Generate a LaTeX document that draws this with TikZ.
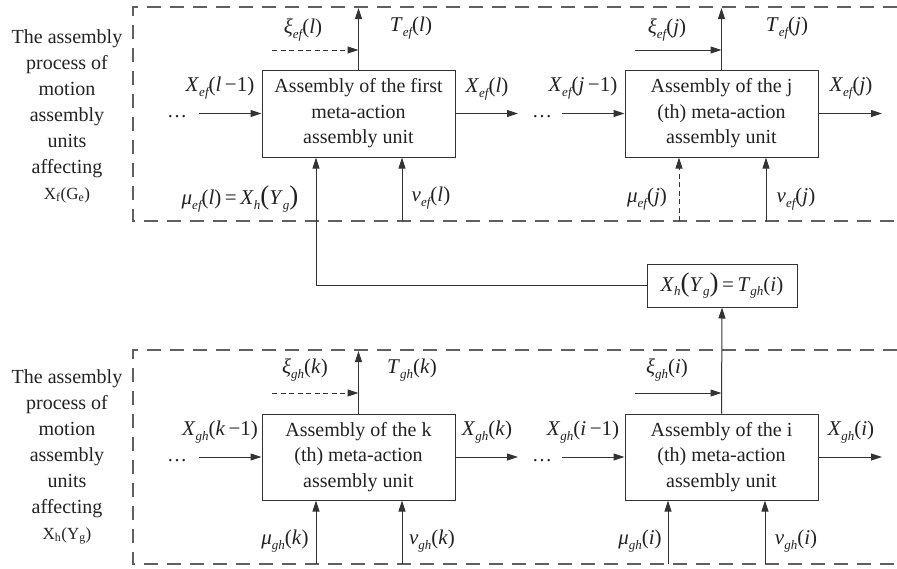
\documentclass[tikz,border=0pt]{standalone}
\usepackage{fontspec}
\setmainfont{Liberation Serif}
\usetikzlibrary{arrows.meta}
\newcommand\Sb[1]{\raisebox{-0.45ex}{\fontsize{13}{13}\selectfont\itshape #1}}
\newcommand\It[1]{\textit{#1}}
\newcommand\Bp[1]{{\fontsize{27}{27}\selectfont #1}}
\definecolor{linec}{HTML}{333333}
\definecolor{framec}{HTML}{606060}
\definecolor{txtc}{HTML}{222222}
\begin{document}
\begin{tikzpicture}[x=1pt,y=-1pt,
  unitbox/.style={draw=linec, line width=1pt, minimum width=193pt, minimum height=87pt,
    align=center, inner sep=0pt, text=txtc, font=\fontsize{20}{25.5}\selectfont},
  eqbox/.style={draw=linec, line width=1pt, minimum width=150pt, minimum height=43pt,
    inner sep=0pt, text=txtc, font=\fontsize{21}{21}\selectfont},
  frame/.style={draw=framec, line width=1.1pt, dash pattern=on 14pt off 9pt},
  arr/.style={draw=linec, line width=1pt, -{Triangle[length=11pt,width=7pt]}},
  darr/.style={arr, dash pattern=on 5pt off 3.5pt},
  lbl/.style={inner sep=0pt, text=txtc, font=\fontsize{21}{21}\selectfont},
  side/.style={align=center, inner sep=0pt, text=txtc, font=\fontsize{20}{26}\selectfont},
  dots/.style={inner sep=0pt, text=txtc, font=\fontsize{20}{20}\selectfont, anchor=base}
]
\useasboundingbox (0,0) rectangle (897,568);

% frames
\draw[frame] (897,7) -- (133,7) -- (133,221) -- (897,221);
\draw[frame] (897,350) -- (133,350) -- (133,564) -- (897,564);

% side texts
\node[side] (sideA) at (67,116) {The assembly\\process of\\motion\\assembly\\units\\affecting\\{\fontsize{17}{17}\selectfont X\textsubscript{f}(G\textsubscript{e})}};
\node[side] (sideB) at (67,457) {The assembly\\process of\\motion\\assembly\\units\\affecting\\{\fontsize{17}{17}\selectfont X\textsubscript{h}(Y\textsubscript{g})}};

% unit boxes
\node[unitbox] (b1) at (358.5,113.5) {Assembly of the first\\meta-action\\assembly unit};
\node[unitbox] (bj) at (721.5,113.5) {Assembly of the j\\(th) meta-action\\assembly unit};
\node[unitbox, minimum height=86pt] (bk) at (358.5,457) {Assembly of the k\\(th) meta-action\\assembly unit};
\node[unitbox, minimum height=86pt] (bi) at (721.5,457) {Assembly of the i\\(th) meta-action\\assembly unit};
\node[eqbox] (xh) at (722,285.5) {\It{X}\Sb{h}\Bp{(}\It{Y}\Sb{g}\Bp{)}\,=\,\It{T}\Sb{gh}(\It{i})};

% coordinates
\coordinate (top1) at (358.5,8);
\coordinate (topj) at (721.5,8);
\coordinate (topk) at (358.5,351);
\coordinate (xs1) at (272,50);
\coordinate (xsj) at (635,50);
\coordinate (xsk) at (272,393);
\coordinate (xsi) at (635,393);
\coordinate (in1) at (199,113.5);
\coordinate (inj) at (562,113.5);
\coordinate (ink) at (199,457);
\coordinate (ini) at (562,457);
\coordinate (out1) at (518,113.5);
\coordinate (outj) at (882,113.5);
\coordinate (outk) at (518,457);
\coordinate (outi) at (882,457);
\coordinate (mu1) at (316,221);
\coordinate (nu1) at (402,221);
\coordinate (muj) at (679,221);
\coordinate (nuj) at (766,221);
\coordinate (muk) at (316,564);
\coordinate (nuk) at (402,564);
\coordinate (mui) at (668,564);
\coordinate (nui) at (765,564);

% top row connectors
\draw[arr] (b1.north) -- (top1);
\draw[darr] (xs1) -- (xs1 -| b1.north);
\draw[arr] (in1) -- (b1.west);
\draw[arr] (b1.east) -- (out1);
\draw[arr] (xh.west) -| (mu1 |- b1.south);
\draw[arr] (nu1) -- (nu1 |- b1.south);

\draw[arr] (bj.north) -- (topj);
\draw[arr] (xsj) -- (xsj -| bj.north);
\draw[arr] (inj) -- (bj.west);
\draw[arr] (bj.east) -- (outj);
\draw[darr] (muj) -- (muj |- bj.south);
\draw[arr] (nuj) -- (nuj |- bj.south);

% bottom row connectors
\draw[arr] (bk.north) -- (topk);
\draw[darr] (xsk) -- (xsk -| bk.north);
\draw[arr] (ink) -- (bk.west);
\draw[arr] (bk.east) -- (outk);
\draw[arr] (muk) -- (muk |- bk.south);
\draw[arr] (nuk) -- (nuk |- bk.south);

\draw[arr] (bi.north) -- (xh.south);
\draw[arr] (xsi) -- (xsi -| bi.north);
\draw[arr] (ini) -- (bi.west);
\draw[arr] (bi.east) -- (outi);
\draw[arr] (mui) -- (mui |- bi.south);
\draw[arr] (nui) -- (nui |- bi.south);

% dots
\node[dots] (d1) at (177,117) {\dots};
\node[dots] (d2) at (542,117) {\dots};
\node[dots] (d3) at (177,461) {\dots};
\node[dots] (d4) at (542,461) {\dots};

% labels top
\node[lbl] (l1) at (220,88) {\It{X}\Sb{ef}(\It{l}\,−1)};
\node[lbl] (l2) at (303,30) {\It{ξ}\Sb{ef}(\It{l})};
\node[lbl] (l3) at (411,28) {\It{T}\Sb{ef}(\It{l})};
\node[lbl] (l4) at (487,89) {\It{X}\Sb{ef}(\It{l})};
\node[lbl] (l5) at (583,88) {\It{X}\Sb{ef}(\It{j}\,−1)};
\node[lbl] (l6) at (667,30) {\It{ξ}\Sb{ef}(\It{j})};
\node[lbl] (l7) at (787,28) {\It{T}\Sb{ef}(\It{j})};
\node[lbl] (l8) at (851,88) {\It{X}\Sb{ef}(\It{j})};
\node[lbl] (l9) at (240,199) {\It{μ}\Sb{ef}(\It{l})\,=\,\It{X}\Sb{h}\Bp{(}\It{Y}\Sb{g}\Bp{)}};
\node[lbl] (l10) at (431,198) {\It{ν}\Sb{ef}(\It{l})};
\node[lbl] (l11) at (647,199) {\It{μ}\Sb{ef}(\It{j})};
\node[lbl] (l12) at (796,199) {\It{ν}\Sb{ef}(\It{j})};

% labels bottom
\node[lbl] (m1) at (220,432) {\It{X}\Sb{gh}(\It{k}\,−1)};
\node[lbl] (m2) at (305,370) {\It{ξ}\Sb{gh}(\It{k})};
\node[lbl] (m3) at (412,370) {\It{T}\Sb{gh}(\It{k})};
\node[lbl] (m4) at (487,432) {\It{X}\Sb{gh}(\It{k})};
\node[lbl] (m5) at (583,432) {\It{X}\Sb{gh}(\It{i}\,−1)};
\node[lbl] (m6) at (667,370) {\It{ξ}\Sb{gh}(\It{i})};
\node[lbl] (m7) at (851,432) {\It{X}\Sb{gh}(\It{i})};
\node[lbl] (m8) at (285,541) {\It{μ}\Sb{gh}(\It{k})};
\node[lbl] (m9) at (432,541) {\It{ν}\Sb{gh}(\It{k})};
\node[lbl] (m10) at (640,541) {\It{μ}\Sb{gh}(\It{i})};
\node[lbl] (m11) at (796,541) {\It{ν}\Sb{gh}(\It{i})};
\end{tikzpicture}
\end{document}
